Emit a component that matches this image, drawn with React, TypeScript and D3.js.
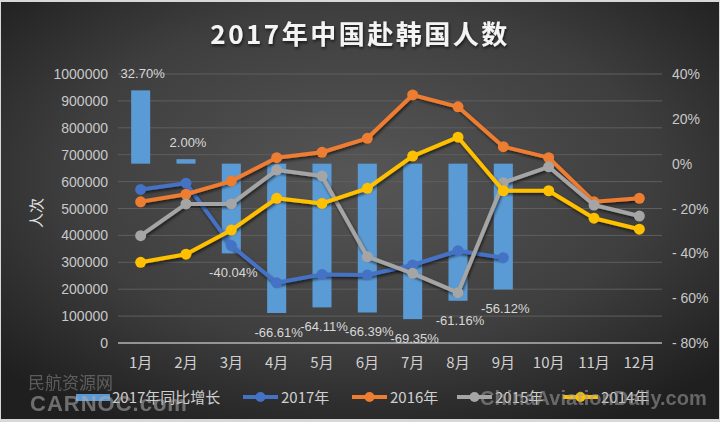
import React from 'react';
import * as d3 from 'd3';

const months = ['1月', '2月', '3月', '4月', '5月', '6月', '7月', '8月', '9月', '10月', '11月', '12月'];
const growth2017 = [32.7, 2.0, -40.04, -66.61, -64.11, -66.39, -69.35, -61.16, -56.12];
const visitors2017 = [571000, 594000, 362000, 224000, 255000, 253000, 290000, 343000, 317000];
const visitors2016 = [525000, 553000, 602000, 689000, 709000, 761000, 922000, 878000, 730000, 689000, 525000, 538000];
const visitors2015 = [399000, 517000, 517000, 643000, 621000, 321000, 259000, 187000, 596000, 655000, 513000, 472000];
const visitors2014 = [300000, 330000, 420000, 538000, 519000, 575000, 695000, 765000, 566000, 566000, 464000, 423000];
const leftTicks = [0, 100000, 200000, 300000, 400000, 500000, 600000, 700000, 800000, 900000, 1000000];
const rightTicks = [-0.8, -0.6, -0.4, -0.2, 0, 0.2, 0.4];

const series = [
  { name: '2017年', values: visitors2017, color: '#4472c4' },
  { name: '2016年', values: visitors2016, color: '#ed7d31' },
  { name: '2015年', values: visitors2015, color: '#a5a5a5' },
  { name: '2014年', values: visitors2014, color: '#ffc000' },
];

const W = 720;
const H = 422;
const font = '"Liberation Sans", "Noto Sans CJK SC", sans-serif';

export default function App() {
  const x = d3.scaleBand<string>().domain(months).range([118, 662]);
  const yLeft = d3.scaleLinear().domain([0, 1000000]).range([343, 74]);
  const yRight = d3.scaleLinear().domain([-0.8, 0.4]).range([343, 74]);
  const cx = (m: string) => (x(m) || 0) + x.bandwidth() / 2;
  const barW = x.bandwidth() * 0.42;

  const line = d3
    .line<number>()
    .x((_, i) => cx(months[i]))
    .y((d) => yLeft(d));

  const pct = (v: number) => `${v.toFixed(2)}%`;
  const fmtRight = (v: number) => {
    const n = Math.round(v * 100);
    return n < 0 ? `- ${Math.abs(n)}%` : `${n}%`;
  };

  // legend layout
  const legendY = 397;
  const lineLegendX = [243, 352, 457, 563];

  return (
    <svg
      width={W}
      height={H}
      style={{ position: 'absolute', left: 0, top: 0, fontFamily: font }}
    >
      <defs>
        <radialGradient id="bg" cx="50%" cy="42%" r="68%">
          <stop offset="0%" stopColor="#565656" />
          <stop offset="60%" stopColor="#3e3e3e" />
          <stop offset="100%" stopColor="#1f1f1f" />
        </radialGradient>
        <filter id="shadow" x="-10%" y="-20%" width="120%" height="160%">
          <feDropShadow dx="1" dy="2" stdDeviation="1.5" floodColor="#000" floodOpacity="0.6" />
        </filter>
      </defs>
      <rect x={0} y={0} width={W} height={H} fill="#d8d8d8" />
      <rect x={1} y={2} width={W - 2} height={H - 5} fill="url(#bg)" />

      <text
        x={360}
        y={44}
        textAnchor="middle"
        fontSize={26}
        fontWeight="bold"
        fill="#f4f4f4"
        letterSpacing={2.5}
        filter="url(#shadow)"
        style={{ fontFamily: '"Noto Sans CJK SC", sans-serif' }}
      >
        2017年中国赴韩国人数
      </text>

      {/* gridlines */}
      {leftTicks.slice(1).map((t) => (
        <line key={t} x1={118} x2={662} y1={yLeft(t)} y2={yLeft(t)} stroke="#5e5e5e" strokeWidth={1} />
      ))}
      <line x1={118} x2={662} y1={yLeft(0)} y2={yLeft(0)} stroke="#b5b5b5" strokeWidth={1.5} />

      {/* left axis */}
      {leftTicks.map((t) => (
        <text key={t} x={108} y={yLeft(t) + 5} textAnchor="end" fontSize={14} fill="#c8c8c8">
          {t}
        </text>
      ))}
      <text
        transform="translate(42,213) rotate(-90)"
        textAnchor="middle"
        fontSize={15}
        fill="#e0e0e0"
        style={{ fontFamily: '"Noto Sans CJK SC", sans-serif' }}
      >
        人次
      </text>

      {/* right axis */}
      {rightTicks.map((t) => (
        <text key={t} x={672} y={yRight(t) + 5} fontSize={14} fill="#c8c8c8">
          {fmtRight(t)}
        </text>
      ))}

      {/* month labels */}
      {months.map((m) => (
        <text key={m} x={cx(m)} y={368} textAnchor="middle" fontSize={15} fill="#d0d0d0"
          style={{ fontFamily: '"Noto Sans CJK SC", sans-serif' }}>
          {m}
        </text>
      ))}

      {/* growth bars */}
      {growth2017.map((g, i) => {
        const y0 = yRight(0);
        const y1 = yRight(g / 100);
        return (
          <rect
            key={i}
            x={cx(months[i]) - barW / 2}
            y={Math.min(y0, y1)}
            width={barW}
            height={Math.abs(y1 - y0)}
            fill="#5b9bd5"
          />
        );
      })}

      {/* lines */}
      {series.map((s) => (
        <g key={s.name}>
          <path d={line(s.values) || ''} fill="none" stroke={s.color} strokeWidth={4} strokeLinejoin="round" filter="url(#shadow)" />
          {s.values.map((v, i) => (
            <circle key={i} cx={cx(months[i])} cy={yLeft(v)} r={5.5} fill={s.color} />
          ))}
        </g>
      ))}

      {/* bar labels */}
      {growth2017.map((g, i) => {
        const y1 = yRight(g / 100);
        const ly = g >= 0 ? y1 - 12 : y1 + 24;
        return (
          <text key={i} x={cx(months[i]) + 2} y={ly} textAnchor="middle" fontSize={13} fill="#d8d8d8">
            {pct(g)}
          </text>
        );
      })}

      {/* legend */}
      <rect x={76} y={legendY - 3} width={34} height={7} fill="#5b9bd5" />
      <text x={112} y={legendY + 6} fontSize={15} fill="#d0d0d0" style={{ fontFamily: '"Noto Sans CJK SC", sans-serif' }}>
        2017年同比增长
      </text>
      {series.map((s, i) => (
        <g key={s.name}>
          <line x1={lineLegendX[i]} x2={lineLegendX[i] + 35} y1={legendY} y2={legendY} stroke={s.color} strokeWidth={4} />
          <circle cx={lineLegendX[i] + 17.5} cy={legendY} r={5} fill={s.color} />
          <text x={lineLegendX[i] + 38} y={legendY + 6} fontSize={15} fill="#d0d0d0" style={{ fontFamily: '"Noto Sans CJK SC", sans-serif' }}>
            {s.name}
          </text>
        </g>
      ))}

      {/* watermarks */}
      <g opacity={0.55}>
        <text x={28} y={389} fontSize={17} fill="#8a8a8a" style={{ fontFamily: '"Noto Sans CJK SC", serif' }}>
          民航资源网
        </text>
        <text x={30} y={411} fontSize={22} fontWeight="bold" fill="#b0b0b0" letterSpacing={1}>
          CARNOC.com
        </text>
        <text x={480} y={405} fontSize={20} fontWeight="bold" fill="#a0a0a0">
          ChinaAviationDaily.com
        </text>
      </g>
    </svg>
  );
}
